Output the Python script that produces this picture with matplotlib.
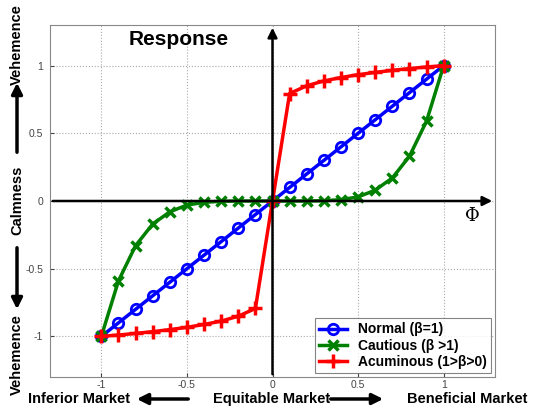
"""
Market response curves for normal, cautious and acuminous traders.
"""

import matplotlib.pyplot as plt
from matplotlib.patches import FancyArrowPatch

plt.rcParams['font.family'] = ['Liberation Sans', 'DejaVu Sans']

# Market index Phi, sampled every 0.1
phi = [-1.0, -0.9, -0.8, -0.7, -0.6, -0.5, -0.4, -0.3, -0.2, -0.1, 0.0,
       0.1, 0.2, 0.3, 0.4, 0.5, 0.6, 0.7, 0.8, 0.9, 1.0]

normal = [-1.0, -0.9, -0.8, -0.7, -0.6, -0.5, -0.4, -0.3, -0.2, -0.1, 0.0,
          0.1, 0.2, 0.3, 0.4, 0.5, 0.6, 0.7, 0.8, 0.9, 1.0]
cautious = [-1.0, -0.59, -0.33, -0.17, -0.08, -0.03, -0.01, -0.002, 0.0, 0.0, 0.0,
            0.0, 0.0, 0.002, 0.01, 0.03, 0.08, 0.17, 0.33, 0.59, 1.0]
acuminous = [-1.0, -0.99, -0.978, -0.965, -0.95, -0.933, -0.912, -0.887, -0.851, -0.794, 0.0,
             0.794, 0.851, 0.887, 0.912, 0.933, 0.95, 0.965, 0.978, 0.99, 1.0]

ticks = [-1, -0.5, 0, 0.5, 1]
tick_labels = ['-1', '-0.5', '0', '0.5', '1']

fig = plt.figure(figsize=(5.48, 4.12), dpi=100)
ax = fig.add_axes([50 / 548, 35 / 412, 445 / 548, 352 / 412])

ax.plot(phi, normal, color='blue', lw=2.5, marker='o', ms=7.5, mfc='none', mew=2,
        label='Normal (β=1)')
ax.plot(phi, cautious, color='green', lw=2.5, marker='x', ms=7.5, mew=2.5,
        label='Cautious (β >1)')
ax.plot(phi, acuminous, color='red', lw=2.5, marker='+', ms=9.5, mew=2.5,
        label='Acuminous (1>β>0)')

ax.set_xlim(-1.3, 1.3)
ax.set_ylim(-1.3, 1.3)
ax.set_xticks(ticks)
ax.set_xticklabels(tick_labels)
ax.set_yticks(ticks)
ax.set_yticklabels(tick_labels)
ax.tick_params(direction='in', labelsize=7.5, colors='#444444', length=3)
ax.tick_params(axis='x', pad=2)
ax.tick_params(axis='y', pad=5)
ax.grid(True, ls=':', color='#aaaaaa', lw=0.8)
for sp in ax.spines.values():
    sp.set_color('#888888')

# coordinate axes with arrowheads
ax.annotate('', xy=(1.3, 0), xytext=(-1.3, 0),
            arrowprops=dict(arrowstyle='-|>', lw=1.8, color='black', mutation_scale=14))
ax.annotate('', xy=(0, 1.3), xytext=(0, -1.3),
            arrowprops=dict(arrowstyle='-|>', lw=1.8, color='black', mutation_scale=14))

ax.text(-0.55, 1.19, 'Response', fontsize=15, fontweight='bold', ha='center', va='center')
ax.text(1.17, -0.11, 'Φ', fontsize=13, family='DejaVu Serif', ha='center', va='center')

leg = ax.legend(loc='lower right', prop={'weight': 'bold', 'size': 10},
                fancybox=False, edgecolor='#666666', borderaxespad=0.3,
                handlelength=2.0, labelspacing=0.15, borderpad=0.3)
leg.get_frame().set_linewidth(0.8)

# side labels
lab = dict(fontsize=10.5, fontweight='bold', ha='center', va='center')
fig.text(17 / 548, 1 - 45 / 412, 'Vehemence', rotation=90, **lab)
fig.text(17 / 548, 1 - 200 / 412, 'Calmness', rotation=90, **lab)
fig.text(17 / 548, 1 - 355 / 412, 'Vehemence', rotation=90, **lab)

arr = dict(arrowstyle='-|>', lw=2.5, color='black', mutation_scale=16)
fig.add_artist(FancyArrowPatch((17 / 548, 1 - 155 / 412), (17 / 548, 1 - 80 / 412),
                               transform=fig.transFigure, **arr))
fig.add_artist(FancyArrowPatch((17 / 548, 1 - 245 / 412), (17 / 548, 1 - 312 / 412),
                               transform=fig.transFigure, **arr))

by = 1 - 399 / 412
fig.text(79 / 548, by, 'Inferior Market', **lab)
fig.text(272 / 548, by, 'Equitable Market', **lab)
fig.text(467 / 548, by, 'Beneficial Market', **lab)
fig.add_artist(FancyArrowPatch((191 / 548, by), (134 / 548, by),
                               transform=fig.transFigure, **arr))
fig.add_artist(FancyArrowPatch((328 / 548, by), (386 / 548, by),
                               transform=fig.transFigure, **arr))

fig.savefig('out.png', dpi=100)
